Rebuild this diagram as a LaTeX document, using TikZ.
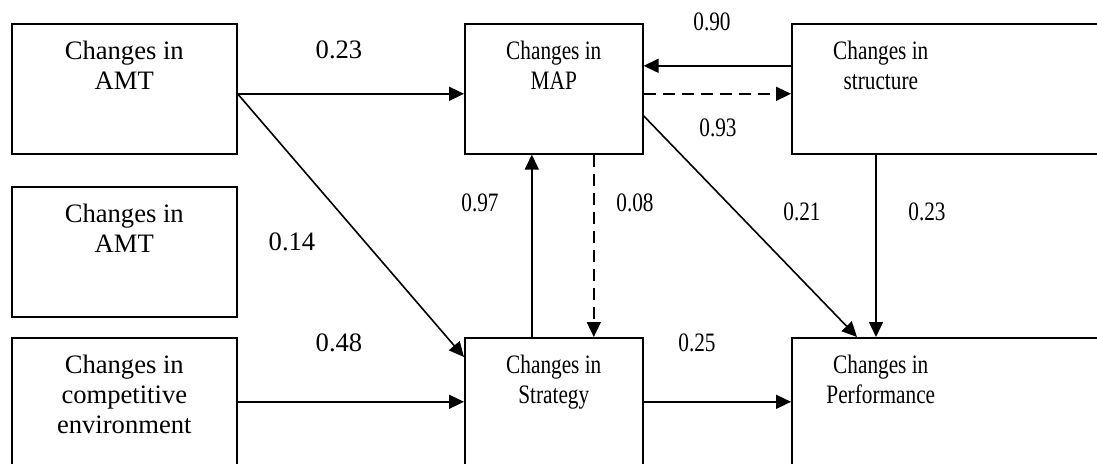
\documentclass[tikz,border=0pt]{standalone}
\usepackage{fontspec}
\setmainfont{Liberation Serif}
\newfontfamily\narrowfont[FakeStretch=0.8]{Liberation Serif}
\usetikzlibrary{arrows.meta}
\newcommand{\boxtext}[3]{\parbox[c][#2][t]{#1}{\centering\rule{0pt}{36pt}#3}}
\newcommand{\boxtextL}[3]{\parbox[c][#2][t]{#1}{\raggedright\rule{0pt}{36pt}#3}}
\newcommand{\lc}[1]{\makebox[178pt]{#1}}
\begin{document}
\begin{tikzpicture}[x=1pt,y=-1pt,
  fnt/.style={font=\fontsize{26.6}{30}\selectfont},
  nfnt/.style={font=\fontsize{26.6}{30}\selectfont\narrowfont},
  box/.style={fnt, draw, line width=1.6pt, inner sep=0pt, anchor=north west},
  nbox/.style={box, nfnt},
  lbl/.style={fnt, inner sep=0pt},
  nlbl/.style={lbl, nfnt},
  arr/.style={line width=1.6pt, -{Triangle[length=15pt,width=14pt]}},
  dsh/.style={arr, dash pattern=on 12pt off 7pt}]
\useasboundingbox (0,0) rectangle (1097,463);
\clip (0,0) rectangle (1097,463);
\fill[white] (0,0) rectangle (1097,463);
% boxes
\node[box] (amt1) at (11,23) {\boxtext{225pt}{130pt}{Changes in\\AMT}};
\node[box] (amt2) at (11,186) {\boxtext{225pt}{130pt}{Changes in\\AMT}};
\node[box] (env) at (11,337) {\boxtext{225pt}{150pt}{Changes in\\competitive\\environment}};
\node[nbox] (map) at (464,23) {\boxtext{178pt}{130pt}{Changes in\\MAP}};
\node[nbox] (strat) at (464,337) {\boxtext{178pt}{150pt}{Changes in\\Strategy}};
\node[nbox] (struct) at (791,23) {\boxtextL{340pt}{130pt}{\lc{Changes in}\\\lc{structure}}};
\node[nbox] (perf) at (791,337) {\boxtextL{340pt}{150pt}{\lc{Changes in}\\\lc{Performance}}};
% connectors
\draw[arr] ([yshift=-5pt]amt1.east) -- ([yshift=-5pt]map.west);
\draw[arr] ([yshift=-5pt]amt1.east) -- ([yshift=-20pt]strat.north west);
\draw[arr] ([yshift=11pt]env.east) -- ([yshift=11pt]strat.west);
\draw[arr] ([xshift=-22pt]strat.north) -- ([xshift=-22pt]map.south);
\draw[dsh] ([xshift=40pt]map.south) -- ([xshift=40pt]strat.north);
\draw[arr] ([yshift=23pt]struct.west) -- ([yshift=23pt]map.east);
\draw[dsh] ([yshift=-5pt]map.east) -- ([yshift=-5pt]struct.west);
\draw[arr] ([yshift=-27pt]map.east) -- ([xshift=66pt]perf.north west);
\draw[arr] ([xshift=85pt]struct.south west) -- ([xshift=85pt]perf.north west);
\draw[arr] ([yshift=11pt]strat.east) -- ([yshift=11pt]perf.west);
% labels
\node[lbl] (l1) at (339,50) {0.23};
\node[nlbl] (l2) at (712,22) {0.90};
\node[nlbl] (l3) at (718,128) {0.93};
\node[nlbl] (l4) at (480,203) {0.97};
\node[nlbl] (l5) at (635,203) {0.08};
\node[nlbl] (l6) at (802,212) {0.21};
\node[nlbl] (l7) at (927,212) {0.23};
\node[lbl] (l8) at (292,242) {0.14};
\node[lbl] (l9) at (339,343) {0.48};
\node[nlbl] (l10) at (697,343) {0.25};
\end{tikzpicture}
\end{document}
